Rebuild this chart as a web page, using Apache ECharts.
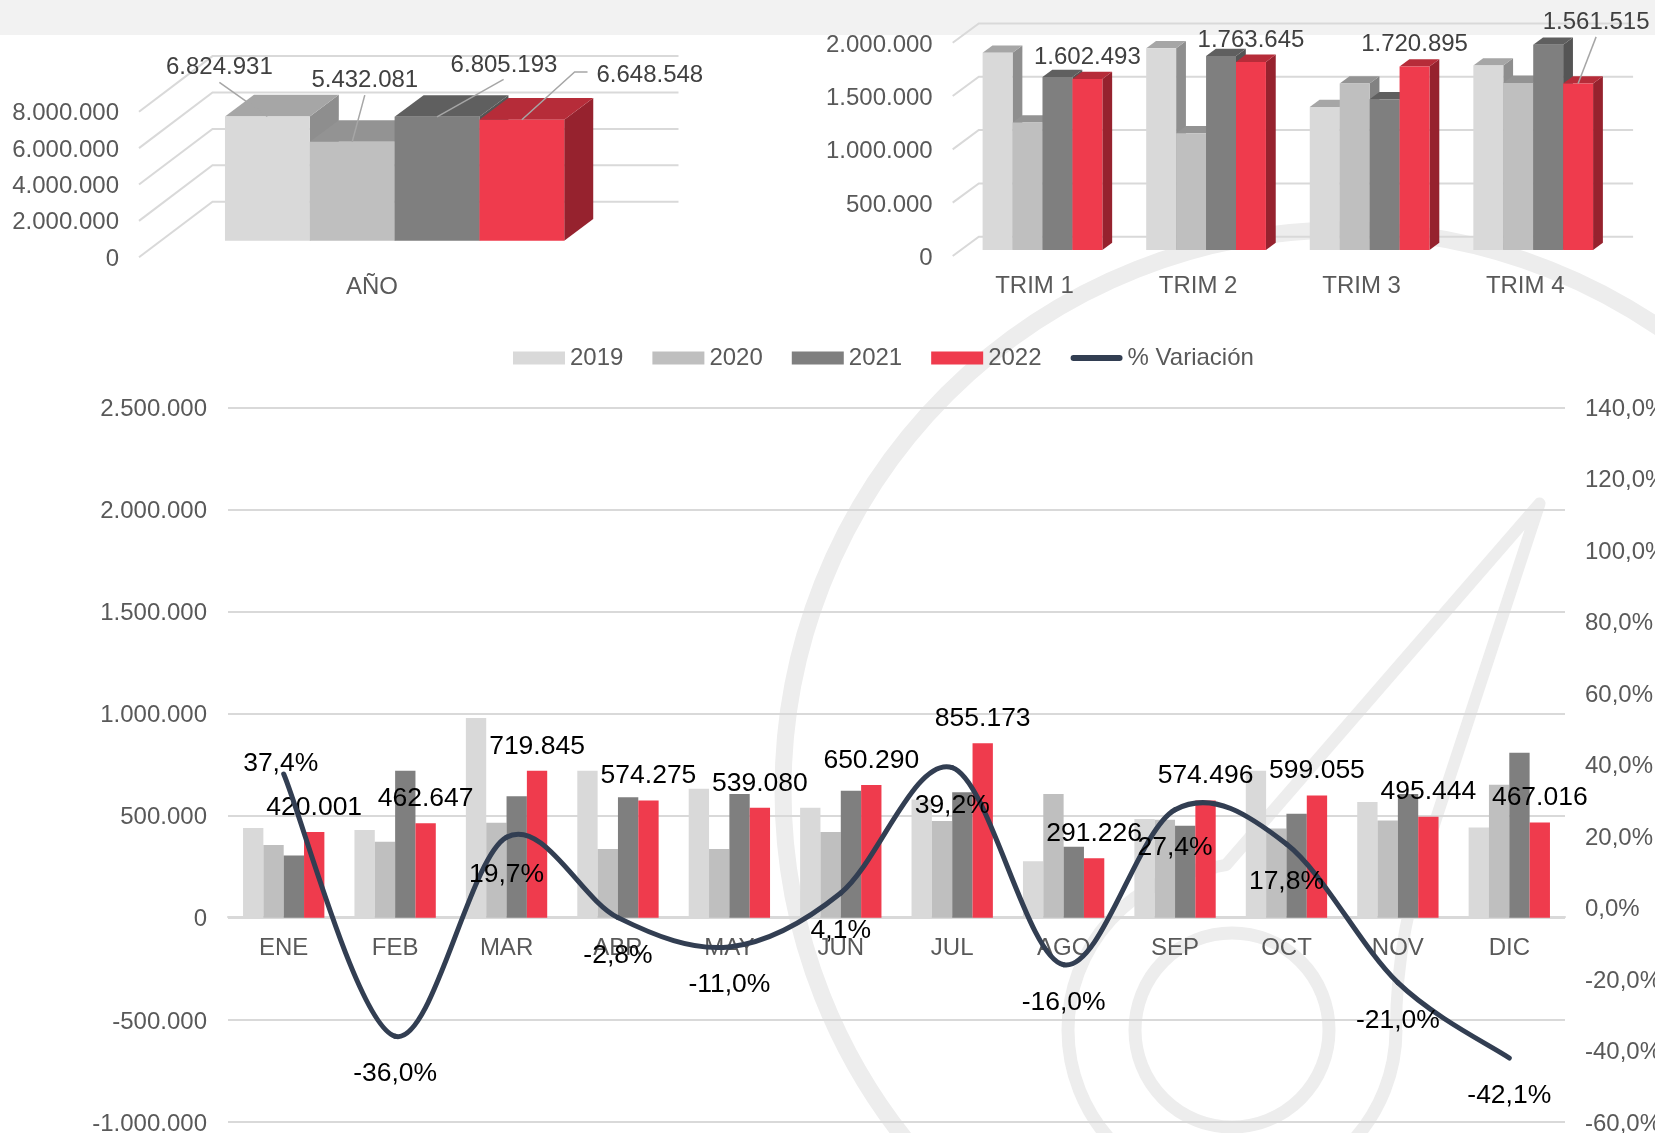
<!DOCTYPE html>
<html><head><meta charset="utf-8">
<style>html,body{margin:0;padding:0;background:#fff}#c{width:1655px;height:1133px}</style>
<script src="https://cdn.jsdelivr.net/npm/echarts@6/dist/echarts.min.js"></script>
</head><body><div id="c"></div>
<script>
const months = ['ENE','FEB','MAR','ABR','MAY','JUN','JUL','AGO','SEP','OCT','NOV','DIC'];
const m2019 = [440000,430000,979000,720000,632000,539000,579000,277000,484000,720000,567000,443000];
const m2020 = [357000,373000,466000,337000,337000,420000,474000,607000,480000,438000,477000,652000];
const m2021 = [305000,720000,596000,590000,606000,622000,615000,348000,451000,510000,607000,808000];
const m2022 = [420001,462647,719845,574275,539080,650290,855173,291226,574496,599055,495444,467016];
const variation = [37.4,-36.0,19.7,-2.8,-11.0,4.1,39.2,-16.0,27.4,17.8,-21.0,-42.1];

const quarters = ['TRIM 1','TRIM 2','TRIM 3','TRIM 4'];
const q2019 = [1849000,1891000,1340000,1730000];
const q2020 = [1196000,1094000,1561000,1567000];
const q2021 = [1621000,1818000,1414000,1925000];
const q2022 = [1602493,1763645,1720895,1561515];

const yearCat = ['AÑO'];
const y2019 = [6824931];
const y2020 = [5432081];
const y2021 = [6805193];
const y2022 = [6648548];

const years = ['2019','2020','2021','2022'];
const lineName = '% Variación';
const yearTicks = [0,2000000,4000000,6000000,8000000];
const quarterTicks = [0,500000,1000000,1500000,2000000];

const FONT = '"Liberation Sans", Arial, sans-serif';
const GREY = '#595959';
const GRID = '#D9D9D9';
const LINE = '#323E52';
const fmtInt = v => String(Math.round(v)).replace(/\B(?=(\d{3})+(?!\d))/g, '.');
const fmtPct = v => v.toFixed(1).replace('.', ',') + '%';

const front = ['#D9D9D9','#BFBFBF','#7F7F7F','#EF3B4D'];
const topC  = ['#A6A6A6','#939393','#5F5F5F','#B62C39'];
const sideC = ['#8E8E8E','#828282','#555555','#96222E'];

const look = [
  { wall:[73.5,55.6], plane:[22.6,16.6], depth:[29,21.7], w:0.182, grid:1 },
  { wall:[26.1,19.3], plane:[8,6],       depth:[9.8,7.3], w:0.183, grid:2 }
];
const yearLabels = [
  { at:[-48,-49.6], leader:[[-48,-34],[0,0]] },
  { at:[12.6,-61.7], leader:[[12.6,-46.7],[0,0]] },
  { at:[67,-51.4], leader:[[66.6,-37.4],[0,0]] },
  { at:[128,-44], leader:[[65.7,-47.7],[52.8,-47.7],[0,0]] }
];
const quarterLabel = { at:[0,-22] };
const quarterLabelLast = { at:[18,-61], leader:[[18,-46.6],[0,0]] };

function wallSeries(l, ticks) {
  const L = look[l];
  return {
    type:'custom', name:'muro'+l, xAxisIndex:L.grid, yAxisIndex:L.grid+1, silent:true, z:1,
    data:ticks.map(t=>[0,t]), encode:{x:0,y:1},
    renderItem(params, api){
      const c = params.coordSys, y = api.coord([0,api.value(1)])[1];
      return {type:'polyline', shape:{points:[[c.x,y],[c.x+L.wall[0],y-L.wall[1]],[c.x+c.width+L.wall[0],y-L.wall[1]]]},
        style:{stroke:GRID,lineWidth:2,fill:null}};
    }
  };
}
function bar3d(l, i, name, values, labelFor) {
  const L = look[l];
  return {
    type:'custom', name:name, xAxisIndex:L.grid, yAxisIndex:L.grid+1, z:3,
    data:values.map((v,k)=>[k,v]), encode:{x:0,y:1},
    renderItem(params, api){
      const k = api.value(0), v = api.value(1);
      const p = api.coord([k,v]), p0 = api.coord([k,0]);
      const w = api.size([1,0])[0]*L.w;
      const x0 = p[0]+L.plane[0]+(i-2)*w, x1 = x0+w;
      const yT = p[1]-L.plane[1], yB = p0[1]-L.plane[1];
      const [dx,dy] = L.depth;
      const kids = [
        {type:'polygon',shape:{points:[[x1,yT],[x1+dx,yT-dy],[x1+dx,yB-dy],[x1,yB]]},style:{fill:sideC[i]}},
        {type:'polygon',shape:{points:[[x0,yT],[x0+dx,yT-dy],[x1+dx,yT-dy],[x1,yT]]},style:{fill:topC[i]}},
        {type:'rect',shape:{x:x0,y:yT,width:w,height:yB-yT},style:{fill:front[i]}}
      ];
      const lab = labelFor(k);
      if (lab) {
        const cx = (x0+x1)/2;
        if (lab.leader) kids.push({type:'polyline',z2:20,shape:{points:lab.leader.map(q=>[cx+q[0],yT+q[1]])},style:{stroke:'#A6A6A6',lineWidth:1.5,fill:null}});
        kids.push({type:'text',z2:30,style:{text:fmtInt(v),x:cx+lab.at[0],y:yT+lab.at[1],align:'center',verticalAlign:'middle',fill:'#404040',font:'24px '+FONT}});
      }
      return {type:'group',children:kids};
    }
  };
}
// Spreadsheet-style spline through the variation points (Catmull-Rom tangents, not clamped at
// extremes, so the curve overshoots a point as the reference does). Every point comes from api.coord.
function splineSeries(values) {
  const last = values.length-1;
  return {
    type:'custom', name:'curva', xAxisIndex:0, yAxisIndex:1, silent:true, z:4,
    data:values.map((v,k)=>[k,v]), encode:{x:0,y:1},
    renderItem(params, api){
      const k = api.value(0);
      if (k >= last) return {type:'group',children:[]};
      const at = j => { const c = Math.max(0,Math.min(last,j)); return api.coord([c, values[c]]); };
      const p0 = at(k-1), p1 = at(k), p2 = at(k+1), p3 = at(k+2);
      return {type:'bezierCurve',shape:{
        x1:p1[0],y1:p1[1],
        cpx1:p1[0]+(p2[0]-p0[0])/6, cpy1:p1[1]+(p2[1]-p0[1])/6,
        cpx2:p2[0]-(p3[0]-p1[0])/6, cpy2:p2[1]-(p3[1]-p1[1])/6,
        x2:p2[0],y2:p2[1]},
        style:{fill:null,stroke:LINE,lineWidth:5,lineCap:'round'}};
    }
  };
}

const axisLabel = {color:GREY,fontSize:24,fontFamily:FONT};
const catAxis = (data,gridIndex,margin)=>({type:'category',gridIndex,data,axisLine:{show:false},axisTick:{show:false},
  axisLabel:Object.assign({margin},axisLabel)});
const smallVal = (gridIndex,max,interval,pad)=>({type:'value',gridIndex,min:0,max,interval,splitLine:{show:false},axisLine:{show:false},axisTick:{show:false},
  axisLabel:Object.assign({margin:20,verticalAlign:'top',padding:[pad,0,0,0],formatter:fmtInt},axisLabel)});

const mainSets = [m2019,m2020,m2021,m2022];
const quarterSets = [q2019,q2020,q2021,q2022];
const yearSets = [y2019,y2020,y2021,y2022];

const series = [];
mainSets.forEach((d,i)=>series.push({
  type:'bar',name:years[i],xAxisIndex:0,yAxisIndex:0,data:d,barGap:'0%',barCategoryGap:'27%',
  itemStyle:{color:front[i]},z:3,
  label:i===3?{show:true,position:'top',distance:11,color:'#000',fontSize:26.5,fontFamily:FONT,formatter:p=>fmtInt(p.value)}:{show:false}
}));
series.push(splineSeries(variation));
series.push({
  type:'line',name:lineName,xAxisIndex:0,yAxisIndex:1,showSymbol:true,symbol:'circle',symbolSize:0.5,z:5,
  lineStyle:{color:LINE,width:5,opacity:0},itemStyle:{color:LINE},
  data:variation.map((v,k)=>k===0?{value:v,label:{position:'top',distance:0,offset:[-3,3]}}:{value:v}),
  label:{show:true,position:'bottom',distance:24,color:'#000',fontSize:26.5,fontFamily:FONT,formatter:p=>fmtPct(p.value)}
});
series.push(wallSeries(0,yearTicks));
yearSets.forEach((d,i)=>series.push(bar3d(0,i,'Año '+years[i],d,()=>yearLabels[i])));
series.push(wallSeries(1,quarterTicks));
quarterSets.forEach((d,i)=>series.push(bar3d(1,i,'Trim '+years[i],d,k=>i===3?(k===3?quarterLabelLast:quarterLabel):null)));

const wm = '#EDEDED';
const decor = {silent:true,z:-90};
const option = {
  backgroundColor:'#fff',animation:false,textStyle:{fontFamily:FONT},
  graphic:{elements:[
    {type:'rect',z:-100,silent:true,shape:{x:0,y:0,width:1655,height:35},style:{fill:'#F2F2F2'}},
    Object.assign({type:'circle',shape:{cx:1343,cy:790,r:560},style:{fill:null,stroke:wm,lineWidth:17}},decor),
    Object.assign({type:'circle',shape:{cx:1232,cy:1030,r:97},style:{fill:null,stroke:wm,lineWidth:13}},decor),
    Object.assign({type:'arc',shape:{cx:1232,cy:1030,r:164,startAngle:0,endAngle:Math.PI*1.47,clockwise:true},style:{fill:null,stroke:wm,lineWidth:13}},decor),
    Object.assign({type:'polyline',shape:{points:[[1215,867],[1226,865],[1539.5,503.6],[1434,825]]},style:{fill:null,stroke:wm,lineWidth:12,lineCap:'round',lineJoin:'round'}},decor),
    Object.assign({type:'bezierCurve',shape:{x1:1434,y1:825,cpx1:1405,cpy1:905,cpx2:1396,cpy2:975,x2:1396,y2:1030},style:{fill:null,stroke:wm,lineWidth:12}},decor)
  ]},
  legend:{
    left:513,top:346,padding:0,icon:'rect',itemWidth:52,itemHeight:13,itemGap:29,
    data:years.concat([{name:lineName,itemStyle:{color:LINE},
      icon:'path://M0,0L0.01,0L0,0.01ZM3,3.5H49A3,3 0 0 1 49,9.5H3A3,3 0 0 1 3,3.5ZM52,13L51.99,13L52,12.99Z'}]),
    textStyle:{color:GREY,fontSize:24,fontFamily:FONT}
  },
  grid:[
    {left:228,top:407.4,width:1337,height:714.6,outerBoundsMode:'none'},
    {left:139,top:111.7,width:466,height:145.6,outerBoundsMode:'none'},
    {left:952.7,top:42.7,width:654.3,height:213.3,outerBoundsMode:'none'}
  ],
  xAxis:[
    {type:'category',gridIndex:0,data:months,position:'bottom',offset:-204.8,
     axisLine:{onZero:false,lineStyle:{color:GRID,width:2}},axisTick:{show:false},
     axisLabel:Object.assign({margin:19},axisLabel)},
    catAxis(yearCat,1,18),
    catAxis(quarters,2,18)
  ],
  yAxis:[
    {type:'value',gridIndex:0,min:-1000000,max:2500000,interval:500000,position:'left',
     splitLine:{lineStyle:{color:GRID,width:2}},axisLine:{show:false},axisTick:{show:false},
     axisLabel:Object.assign({margin:21,verticalAlign:'top',padding:[-10,0,0,0],formatter:fmtInt},axisLabel)},
    {type:'value',gridIndex:0,min:-60,max:140,interval:20,position:'right',
     splitLine:{show:false},axisLine:{show:false},axisTick:{show:false},
     axisLabel:Object.assign({margin:20,verticalAlign:'top',padding:[-10,0,0,0],formatter:v=>fmtPct(v)},axisLabel)},
    smallVal(1,8000000,2000000,-10.2),
    smallVal(2,2000000,500000,-9.5)
  ],
  series
};
echarts.init(document.getElementById('c'),null,{renderer:'canvas'}).setOption(option);
</script></body></html>
